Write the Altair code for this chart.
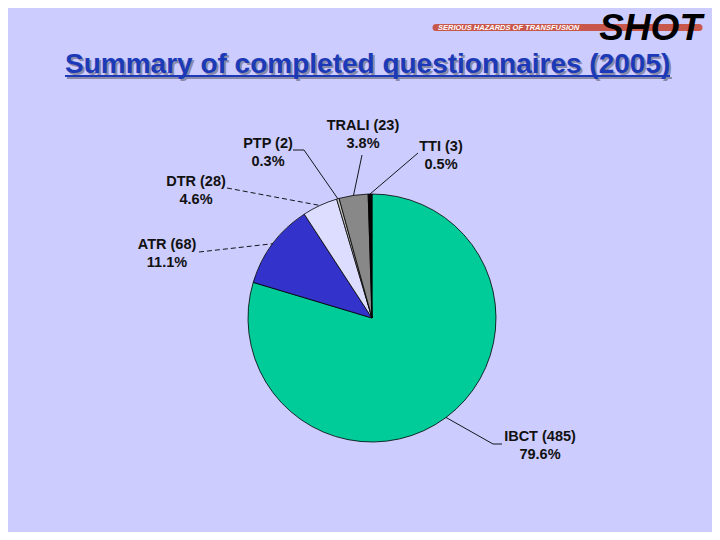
import math
import altair as alt
import pandas as pd

# ---------------- data ----------------
categories = ["IBCT", "ATR", "DTR", "PTP", "TRALI", "TTI"]
counts = [485, 68, 28, 2, 23, 3]
percents = ["79.6%", "11.1%", "4.6%", "0.3%", "3.8%", "0.5%"]
title_text = "Summary of completed questionnaires (2005)"
logo_text = "SHOT"
logo_sub = "SERIOUS HAZARDS OF TRANSFUSION"

# ---------------- style / layout ----------------
colors = ["#00CC99", "#3333CC", "#DDDDFF", "#C4C4C4", "#888888", "#000000"]
BG = "#CCCCFF"
W, H = 704, 524
OFF = 8  # page margin
CX, CY, R = 372 - OFF, 318 - OFF, 124
FONT = "Liberation Sans"

# label centre (x) and middle of first line (y), page coords
label_pos = {
    "IBCT": (540, 437),
    "ATR": (167, 245),
    "DTR": (196, 182),
    "PTP": (268, 144),
    "TRALI": (363, 126),
    "TTI": (441, 147),
}
# leader line points from label side towards slice (page coords)
leader_start = {
    "IBCT": [(502, 444), (493, 444)],
    "ATR": [(199, 252)],
    "DTR": [(227, 188)],
    "PTP": [(293, 150), (304, 150)],
    "TRALI": [(362, 155)],
    "TTI": [(418, 153)],
}
dashed = {"ATR", "DTR"}

# ---------------- derived tables ----------------
total = sum(counts)
pie_df = pd.DataFrame({"cat": categories, "count": counts, "idx": range(len(categories))})

rows = []
cum = 0
for c, n in zip(categories, counts):
    mid = (cum + n / 2) / total * 2 * math.pi
    cum += n
    ex = CX + R * math.sin(mid)
    ey = CY - R * math.cos(mid)
    pts = [(x - OFF, y - OFF) for x, y in leader_start[c]] + [(ex, ey)]
    for i, (x, y) in enumerate(pts):
        rows.append({"cat": c, "o": i, "x": x, "y": y, "dash": c in dashed})
lead_df = pd.DataFrame(rows)

lab_df = pd.DataFrame({
    "cat": categories,
    "text": [f"{c} ({n})\n{p}" for c, n, p in zip(categories, counts, percents)],
    "x": [label_pos[c][0] - OFF for c in categories],
    "y": [label_pos[c][1] - OFF for c in categories],
})

xs = alt.Scale(domain=[0, W], nice=False, zero=False)
ys = alt.Scale(domain=[0, H], nice=False, zero=False, reverse=True)

pie = alt.Chart(pie_df).mark_arc(outerRadius=R, stroke="#000000", strokeWidth=0.8).encode(
    theta=alt.Theta("count:Q", stack=True),
    order=alt.Order("idx:Q"),
    color=alt.Color("cat:N", scale=alt.Scale(domain=categories, range=colors), legend=None),
    x=alt.value(CX),
    y=alt.value(CY),
)

solid_lines = alt.Chart(lead_df[~lead_df["dash"]]).mark_line(color="#000000", strokeWidth=0.9).encode(
    x=alt.X("x:Q", scale=xs, axis=None),
    y=alt.Y("y:Q", scale=ys, axis=None),
    detail="cat:N",
    order="o:Q",
)
dash_lines = alt.Chart(lead_df[lead_df["dash"]]).mark_line(
    color="#000000", strokeWidth=0.9, strokeDash=[5, 3]
).encode(
    x=alt.X("x:Q", scale=xs, axis=None),
    y=alt.Y("y:Q", scale=ys, axis=None),
    detail="cat:N",
    order="o:Q",
)

labels = alt.Chart(lab_df).mark_text(
    font=FONT, fontSize=14.5, fontWeight="bold", color="#111111",
    align="center", baseline="middle", lineBreak="\n", lineHeight=17.5,
).encode(
    x=alt.X("x:Q", scale=xs, axis=None),
    y=alt.Y("y:Q", scale=ys, axis=None),
    text="text:N",
)

# title with shadow and underline
title_shadow = alt.Chart(pd.DataFrame({"t": [title_text]})).mark_text(
    font=FONT, fontSize=28, fontWeight="bold", color="#8A8AAA", align="left", baseline="alphabetic"
).encode(x=alt.value(65 - OFF + 2), y=alt.value(73 - OFF + 2), text="t:N")
underline_shadow = alt.Chart(pd.DataFrame({"t": [0]})).mark_rule(color="#8A8AAA", strokeWidth=2).encode(
    x=alt.value(65 - OFF + 2), x2=alt.value(670 - OFF + 2), y=alt.value(76 - OFF + 2)
)
title = alt.Chart(pd.DataFrame({"t": [title_text]})).mark_text(
    font=FONT, fontSize=28, fontWeight="bold", color="#1C3AB8", align="left", baseline="alphabetic"
).encode(x=alt.value(65 - OFF), y=alt.value(73 - OFF), text="t:N")
underline = alt.Chart(pd.DataFrame({"t": [0]})).mark_rule(color="#1C3AB8", strokeWidth=2).encode(
    x=alt.value(65 - OFF), x2=alt.value(670 - OFF), y=alt.value(76 - OFF)
)

# logo
bar = alt.Chart(pd.DataFrame({"t": [0]})).mark_rule(color="#C9584C", strokeWidth=7, strokeCap="round").encode(
    x=alt.value(436 - OFF), x2=alt.value(699 - OFF), y=alt.value(27.5 - OFF)
)
bar_text = alt.Chart(pd.DataFrame({"t": [logo_sub]})).mark_text(
    font=FONT, fontSize=7.5, fontWeight="bold", fontStyle="italic", color="#FFFFFF",
    align="left", baseline="middle"
).encode(x=alt.value(438 - OFF), y=alt.value(28 - OFF), text="t:N")
logo = alt.Chart(pd.DataFrame({"t": [logo_text]})).mark_text(
    font=FONT, fontSize=37, fontWeight="bold", fontStyle="italic", color="#000000",
    align="right", baseline="alphabetic"
).encode(x=alt.value(702 - OFF), y=alt.value(40 - OFF), text="t:N")

chart = alt.layer(
    pie, solid_lines, dash_lines, labels,
    title_shadow, underline_shadow, title, underline,
    bar, bar_text, logo,
).properties(
    width=W, height=H,
    autosize=alt.AutoSizeParams(type="none"),
    padding=0,
).configure(background=BG).configure_view(stroke=None)

chart.save("out.html", embed_options={"renderer": "svg", "actions": False})
